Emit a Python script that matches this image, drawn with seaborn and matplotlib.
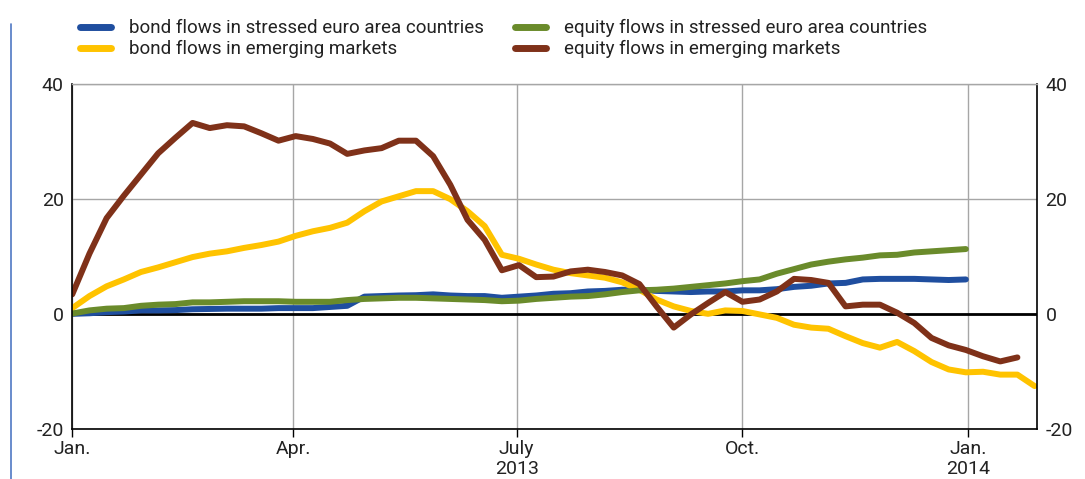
import numpy as np
import pandas as pd
import matplotlib
matplotlib.use("Agg")
import matplotlib.pyplot as plt
from matplotlib.lines import Line2D
import seaborn as sns

# ---------------- data (weekly, cumulative flows, % ) ----------------
dates = pd.date_range("2013-01-01", periods=57, freq="7D")

bond_stressed = [0.0, 0.1, 0.3, 0.4, 0.6, 0.6, 0.65, 0.8, 0.85, 0.9,
                 0.9, 0.9, 1.0, 1.0, 1.0, 1.2, 1.4, 3.0, 3.1, 3.2,
                 3.25, 3.4, 3.2, 3.1, 3.1, 2.8, 3.0, 3.2, 3.5, 3.6,
                 3.9, 4.0, 4.2, 4.2, 4.0, 3.9, 3.8, 3.9, 3.9, 4.1,
                 4.1, 4.3, 4.7, 4.9, 5.3, 5.4, 6.0, 6.1, 6.1, 6.1,
                 6.0, 5.9, 6.0]

equity_stressed = [0.05, 0.6, 0.9, 1.0, 1.4, 1.6, 1.7, 2.0, 2.0, 2.1,
                   2.2, 2.2, 2.2, 2.1, 2.1, 2.1, 2.4, 2.6, 2.7, 2.8,
                   2.8, 2.7, 2.6, 2.5, 2.4, 2.2, 2.3, 2.6, 2.8, 3.0,
                   3.1, 3.4, 3.8, 4.1, 4.2, 4.4, 4.7, 5.0, 5.3, 5.7,
                   6.0, 7.0, 7.8, 8.6, 9.1, 9.5, 9.8, 10.2, 10.3, 10.7,
                   10.9, 11.1, 11.3]

bond_em = [1.0, 3.1, 4.8, 6.0, 7.3, 8.1, 9.0, 9.9, 10.5, 10.9,
           11.5, 12.0, 12.6, 13.6, 14.4, 15.0, 15.9, 17.9, 19.6, 20.5,
           21.4, 21.4, 20.0, 17.9, 15.3, 10.3, 9.6, 8.6, 7.7, 7.1,
           6.7, 6.3, 5.5, 4.2, 2.5, 1.3, 0.5, 0.0, 0.6, 0.5,
           -0.1, -0.7, -1.9, -2.4, -2.6, -3.9, -5.1, -5.9, -4.9, -6.5,
           -8.4, -9.7, -10.2, -10.1, -10.6, -10.6, -12.6]

equity_em = [3.4, 10.5, 16.7, 20.6, 24.3, 28.0, 30.7, 33.3, 32.4, 32.9,
             32.7, 31.5, 30.2, 31.0, 30.5, 29.7, 27.9, 28.5, 28.9, 30.2,
             30.2, 27.5, 22.5, 16.4, 12.9, 7.6, 8.5, 6.4, 6.5, 7.4,
             7.7, 7.3, 6.7, 5.2, 1.3, -2.4, -0.1, 1.9, 3.8, 2.1,
             2.5, 3.9, 6.1, 5.9, 5.4, 1.3, 1.6, 1.6, 0.2, -1.6,
             -4.2, -5.5, -6.3, -7.4, -8.3, -7.6]

series_names = ["bond flows in stressed euro area countries",
                "bond flows in emerging markets",
                "equity flows in stressed euro area countries",
                "equity flows in emerging markets"]
series_values = [bond_stressed, bond_em, equity_stressed, equity_em]
series_colors = ["#1f4e9f", "#ffc300", "#6a8b2b", "#7f3119"]

tick_dates = pd.to_datetime(["2013-01-01", "2013-04-01", "2013-07-01",
                             "2013-10-01", "2014-01-01"])
tick_labels = ["Jan.", "Apr.", "July\n2013", "Oct.", "Jan.\n2014"]
y_ticks = [-20, 0, 20, 40]

frames = []
for name, vals in zip(series_names, series_values):
    frames.append(pd.DataFrame({"date": dates[:len(vals)], "value": vals,
                                "series": name}))
df = pd.concat(frames, ignore_index=True)

# ---------------- style ----------------
sns.set_theme(style="white")
plt.rcParams["font.family"] = ["Roboto", "DejaVu Sans"]
plt.rcParams["text.color"] = "#222222"
plt.rcParams["axes.unicode_minus"] = False

fig = plt.figure(figsize=(10.85, 4.79), dpi=100)
ax = fig.add_axes([0.0666, 0.1054, 0.8892, 0.7182])

palette = dict(zip(series_names, series_colors))
sns.lineplot(data=df, x="date", y="value", hue="series", hue_order=series_names,
             palette=palette, linewidth=4.3, ax=ax, legend=False,
             solid_capstyle="round", solid_joinstyle="round")

ax.set_ylim(-20, 40)
ax.set_xlim(pd.Timestamp("2013-01-01"), pd.Timestamp("2014-01-29"))
ax.set_yticks(y_ticks)
ax.set_xticks(tick_dates)
ax.set_xticklabels(tick_labels)
ax.set_xlabel("")
ax.set_ylabel("")

ax.grid(True, color="#a6a6a6", linewidth=1.0)
ax.set_axisbelow(True)
ax.axhline(0, color="black", linewidth=2.0, zorder=1.5)

for side in ["left", "right", "bottom"]:
    ax.spines[side].set_color("black")
    ax.spines[side].set_linewidth(1.2)
ax.spines["top"].set_color("#a6a6a6")
ax.spines["top"].set_linewidth(1.0)

ax.tick_params(axis="x", which="major", length=6, width=1.0, color="black",
               labelsize=14, labelcolor="#222222", pad=2, bottom=True)
ax.tick_params(axis="y", length=0, labelsize=14, labelcolor="#222222", pad=6)
ax.tick_params(axis="y", right=False, labelright=False)

ax2 = ax.twinx()
ax2.set_ylim(ax.get_ylim())
ax2.set_yticks(y_ticks)
ax2.tick_params(axis="y", length=0, labelsize=14, labelcolor="#222222", pad=6)
for s in ax2.spines.values():
    s.set_visible(False)
ax2.grid(False)

handles = [Line2D([0], [0], color=c, linewidth=5, solid_capstyle="round")
           for c in series_colors]
fig.legend(handles, series_names, ncol=2, loc="upper left",
           bbox_to_anchor=(0.062, 0.9875), frameon=False,
           prop={"size": 13.5},
           handlelength=1.65, handletextpad=0.93, columnspacing=1.68,
           labelspacing=0.15, borderaxespad=0.3)

fig.add_artist(Line2D([0.0102, 0.0102], [0.0, 0.95], transform=fig.transFigure,
                      color="#4f78c4", linewidth=1.2))

fig.savefig("out.png", dpi=100)
